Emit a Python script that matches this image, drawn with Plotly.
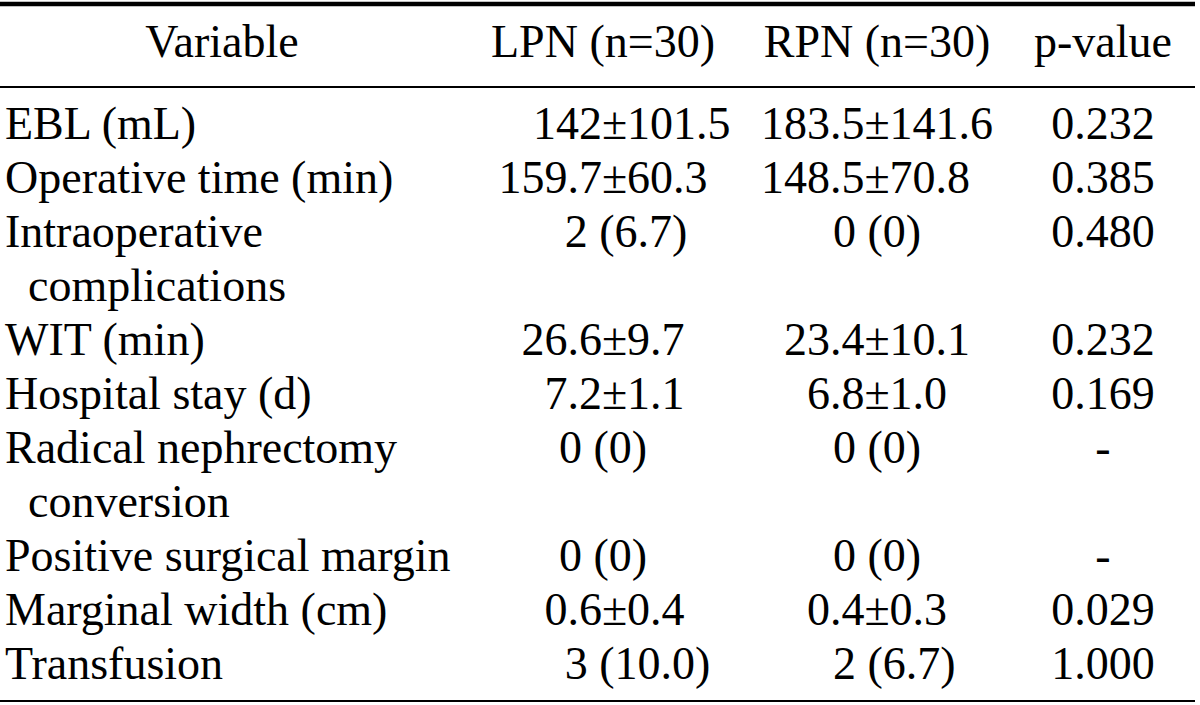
import plotly.graph_objects as go

# ---- data ----
headers = ["Variable", "LPN (n=30)", "RPN (n=30)", "p-value"]
variables = [
    "EBL (mL)",
    "Operative time (min)",
    "Intraoperative\ncomplications",
    "WIT (min)",
    "Hospital stay (d)",
    "Radical nephrectomy\nconversion",
    "Positive surgical margin",
    "Marginal width (cm)",
    "Transfusion",
]
NB = "\u00a0"
lpn = [NB * 5 + "142±101.5", "159.7±60.3", NB * 4 + "2 (6.7)", "26.6±9.7",
       NB * 2 + "7.2±1.1", "0 (0)", "0 (0)", NB * 2 + "0.6±0.4", NB * 6 + "3 (10.0)"]
rpn = ["183.5±141.6", "148.5±70.8" + NB * 2, "0 (0)", "23.4±10.1", "6.8±1.0",
       "0 (0)", "0 (0)", "0.4±0.3", NB * 3 + "2 (6.7)"]
pvals = ["0.232", "0.385", "0.480", "0.232", "0.169", "-", "-", "0.029", "1.000"]

# ---- layout constants ----
W, H = 1200, 705
FONT = dict(family="Liberation Serif", size=46, color="#000000")
HEADER_Y = 45
FIRST_Y = 127
PITCH = 54
COL_LEFT = 5
COL_CENTERS = [222, 603, 877, 1103]
INDENT = NB * 2
RULE_X1 = 1195

# build line positions
var_x, var_y, var_t = [], [], []
row_y = []
line = 0
for v in variables:
    parts = v.split("\n")
    row_y.append(FIRST_Y + line * PITCH)
    for j, p in enumerate(parts):
        var_x.append(COL_LEFT)
        var_y.append(FIRST_Y + line * PITCH)
        var_t.append(p if j == 0 else INDENT + p)
        line += 1
n_lines = line

fig = go.Figure()

# header row
fig.add_trace(go.Scatter(
    x=COL_CENTERS, y=[HEADER_Y] * len(headers), text=headers,
    mode="text", textposition="middle center", textfont=FONT,
    hoverinfo="skip", showlegend=False, cliponaxis=False))

# variable column (left aligned)
fig.add_trace(go.Scatter(
    x=var_x, y=var_y, text=var_t, mode="text",
    textposition="middle right", textfont=FONT,
    hoverinfo="skip", showlegend=False, cliponaxis=False))

# value columns
for ci, col in enumerate([lpn, rpn, pvals], start=1):
    fig.add_trace(go.Scatter(
        x=[COL_CENTERS[ci]] * len(col), y=row_y, text=col, mode="text",
        textposition="middle center", textfont=FONT,
        hoverinfo="skip", showlegend=False, cliponaxis=False))

# rules
top_y = 4
mid_y = 87
bot_y = FIRST_Y + (n_lines - 1) * PITCH + 34
for yy, wdt in [(top_y, 4.5), (mid_y, 2), (bot_y, 2)]:
    fig.add_shape(type="line", xref="x", yref="y", x0=0, x1=RULE_X1,
                  y0=yy, y1=yy, line=dict(color="#000000", width=wdt))

fig.update_layout(
    width=W, height=H,
    margin=dict(l=0, r=0, t=0, b=0),
    paper_bgcolor="white", plot_bgcolor="white",
    xaxis=dict(range=[0, W], visible=False, fixedrange=True),
    yaxis=dict(range=[H, 0], visible=False, fixedrange=True),
)

fig.write_html(
    "out.html",
    config={"displayModeBar": False},
    post_script="document.body.style.margin='0';document.body.style.overflow='hidden';",
)
